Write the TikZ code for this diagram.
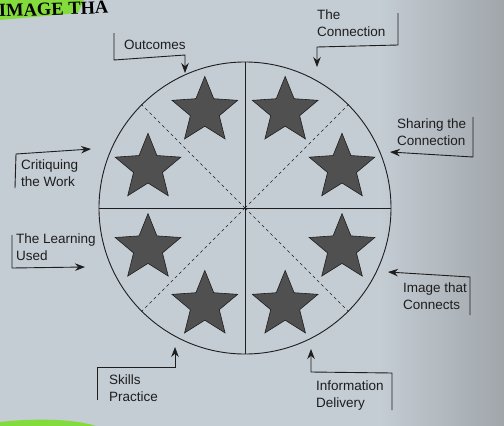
\documentclass[tikz,border=0pt]{standalone}
\usepackage{fontspec}
\setmainfont{Liberation Sans}
\newfontfamily\headfont{Liberation Serif}
\usetikzlibrary{shapes.geometric,arrows.meta,calc}
\definecolor{paper}{HTML}{C4CCD4}
\definecolor{paperdark}{HTML}{A0A6AA}
\definecolor{ink}{HTML}{1E1E1E}
\definecolor{starfill}{HTML}{505050}
\definecolor{marker}{HTML}{84DB3C}
\begin{document}
\begin{tikzpicture}[x=1pt,y=-1pt,
  lbl/.style={font=\fontsize{13.5}{17}\selectfont, align=left, inner sep=0pt, anchor=base west, text=ink},
  lead/.style={draw=ink, line width=0.9pt, -{Stealth[length=10pt,width=7.5pt]}},
  starnode/.style={star, star points=5, star point ratio=2.27, minimum size=69pt, inner sep=0pt, draw=ink, line width=0.6pt, fill=starfill},
  divider/.style={draw=ink, line width=0.8pt},
  diag/.style={draw=ink, line width=0.6pt, dash pattern=on 3pt off 3pt}]

% page
\useasboundingbox (0,0) rectangle (504,426);
\fill[paper] (0,0) rectangle (504,426);
\shade[left color=paper, right color=paperdark] (380,0) rectangle (504,426);

% heading with highlighter
\fill[marker] (0,0) -- (84,0) -- (78,13) -- (0,20) -- cycle;
\node[font=\headfont\bfseries\fontsize{18.5}{18.5}\selectfont, anchor=base west, inner sep=0pt, rotate=2] (head) at (-1,17) {IMAGE THA};
\fill[marker] (0,426) -- (0,422) .. controls (35,418) and (75,419) .. (96,426) -- cycle;

% the wheel and its sectors
\node[circle, draw=ink, line width=0.9pt, minimum size=292pt, inner sep=0pt] (wheel) at (245,208) {};
\draw[divider] (wheel.north) -- (wheel.south);
\draw[divider] (wheel.west) -- (wheel.east);
\foreach \a in {45,135,225,315} \draw[diag] (wheel.center) -- (wheel.\a);

% one star per sector
\foreach \k in {0,...,7}
  \node[starnode] (star\k) at ($(wheel.center)+({22.5+45*\k}:105)$) {};

% labels (anchored on the baseline of their last line)
\node[lbl] (outcomes) at (124,49) {Outcomes};
\node[lbl] (connection) at (317,36) {The\\Connection};
\node[lbl] (sharing) at (397,145) {Sharing the\\Connection};
\node[lbl] (image) at (403,309) {Image that\\Connects};
\node[lbl] (delivery) at (316,407) {Information\\Delivery};
\node[lbl] (skills) at (109,401) {Skills\\Practice};
\node[lbl] (learning) at (16,260) {The Learning\\Used};
\node[lbl] (critique) at (21,186) {Critiquing\\the Work};

% leader lines
\coordinate (oA) at (114,33); \coordinate (oB) at (114,60);
\coordinate (oC) at (185,55); \coordinate (oT) at (185,73);
\draw[lead] (oA) -- (oB) -- (oC) -- (oT);

\coordinate (cA) at (398,13); \coordinate (cB) at (398,45);
\coordinate (cC) at (317,47); \coordinate (cT) at (317,67);
\draw[lead] (cA) -- (cB) -- (cC) -- (cT);

\coordinate (sA) at (473,117); \coordinate (sB) at (473,157);
\coordinate (sT) at (390,152);
\draw[lead] (sA) -- (sB) -- (sT);

\coordinate (iA) at (470,315); \coordinate (iB) at (470,277);
\coordinate (iT) at (388,272);
\draw[lead] (iA) -- (iB) -- (iT);

\coordinate (dA) at (392,410); \coordinate (dB) at (392,373);
\coordinate (dC) at (311,372); \coordinate (dT) at (311,349);
\draw[lead] (dA) -- (dB) -- (dC) -- (dT);

\coordinate (kA) at (97,400); \coordinate (kB) at (97,367);
\coordinate (kC) at (175,367); \coordinate (kT) at (175,347);
\draw[lead] (kA) -- (kB) -- (kC) -- (kT);

\coordinate (lA) at (12,235); \coordinate (lB) at (12,268);
\coordinate (lT) at (85,267);
\draw[lead] (lA) -- (lB) -- (lT);

\coordinate (wA) at (15,188); \coordinate (wB) at (16,154);
\coordinate (wT) at (91,149);
\draw[lead] (wA) -- (wB) -- (wT);
\end{tikzpicture}
\end{document}
